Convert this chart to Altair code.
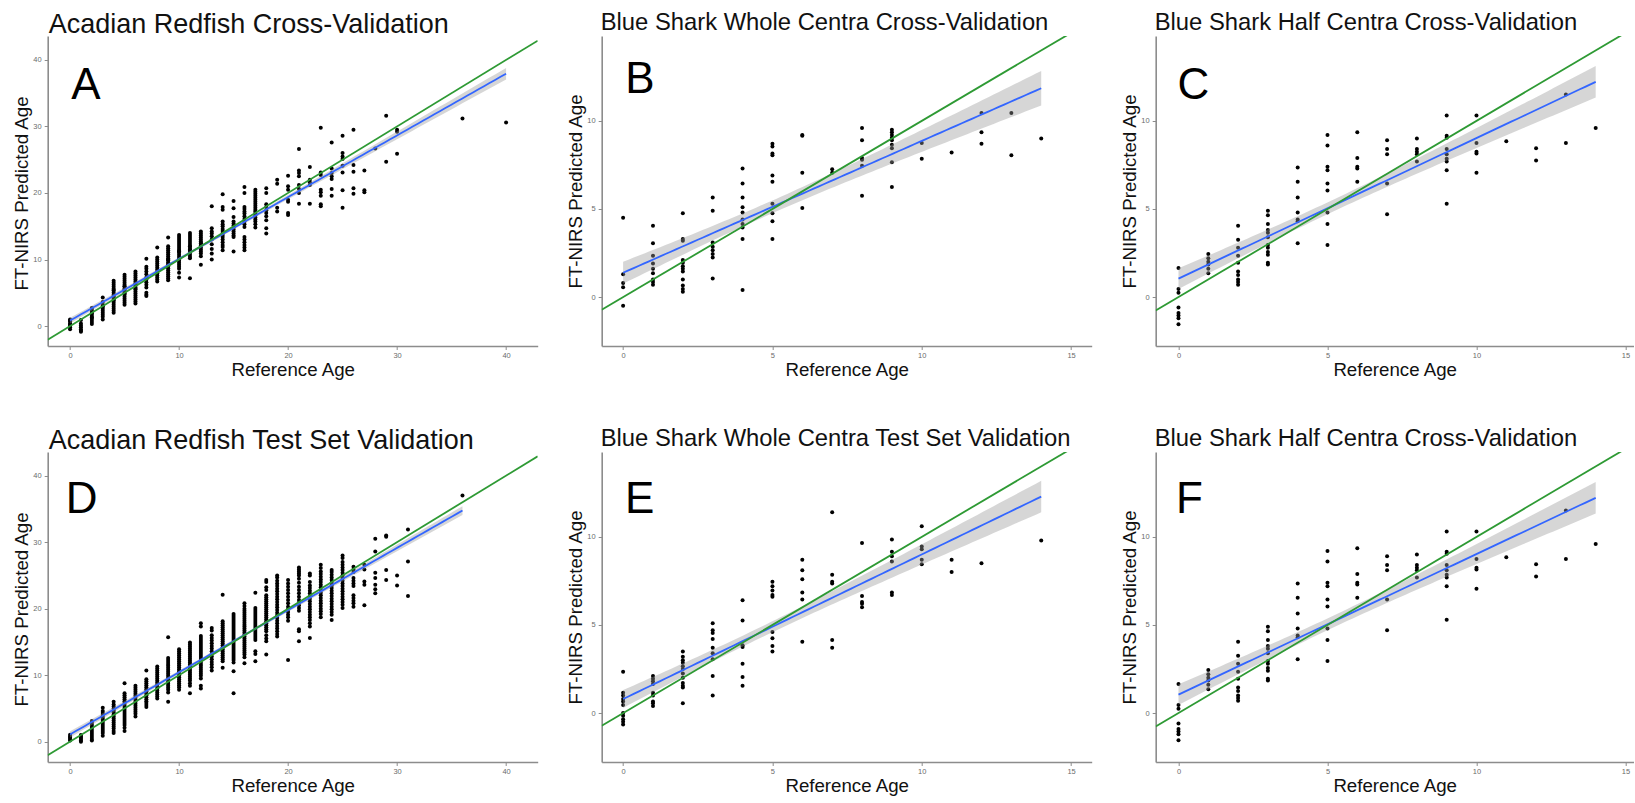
import altair as alt
import numpy as np
import pandas as pd

FONT = "Liberation Sans"
AX = "#8c8c8c"
LAB = "#6b6b6b"
TXT = "#111111"
GREEN = "#2e9a34"
BLUE = "#3366FF"

# ---------------- data ----------------
# Panel A: Acadian Redfish Cross-Validation
A_ages = [0, 1, 2, 3, 4, 5, 6, 7, 8, 9, 10, 11, 12, 13, 14, 15, 16, 17, 18, 19, 20,
          21, 22, 23, 24, 25, 26, 27, 28, 29, 30, 36, 40]
A_preds = [
    [1.0, 0.7, 0.4, 0.1, -0.2, -0.5, 0.85, 0.25],
    [0.9, 0.4, -0.2, -0.5, -0.7, -0.85, 0.1],
    [2.7, 2.4, 2.1, 1.8, 1.5, 1.2, 0.9, 0.6, 0.3, 2.0, 1.3],
    [4.3, 3.6, 3.2, 2.9, 2.6, 2.3, 2.0, 1.7, 1.4, 1.0, 3.0],
    [6.8, 6.5, 6.2, 5.9, 5.6, 5.3, 5.0, 4.7, 4.4, 4.1, 3.8, 3.5, 3.2, 2.9, 2.6, 2.3, 2.0, 4.5, 3.9, 5.4],
    [7.7, 7.4, 7.1, 6.8, 6.5, 6.2, 5.9, 5.6, 5.3, 5.0, 4.7, 4.4, 4.1, 3.8, 3.5, 3.2, 5.5, 6.0, 4.9],
    [8.2, 7.9, 7.6, 7.3, 7.0, 6.7, 6.4, 6.1, 5.8, 5.5, 5.2, 4.9, 4.6, 4.3, 4.0, 3.7, 3.4, 6.3, 5.6],
    [10.1, 8.9, 8.6, 8.2, 7.8, 7.3, 7.0, 6.6, 6.2, 5.8, 5.0, 4.7, 4.5],
    [11.8, 10.3, 10.0, 9.7, 9.4, 9.1, 8.8, 8.5, 8.2, 7.9, 7.6, 7.3, 7.0, 6.7, 8.0],
    [13.3, 12.0, 11.7, 11.4, 11.1, 10.8, 10.5, 10.2, 9.9, 9.6, 9.3, 9.0, 8.7, 8.4, 8.1, 7.8, 7.5, 7.2, 6.9, 10.0, 9.2],
    [13.7, 13.4, 13.1, 12.8, 12.5, 12.2, 11.9, 11.6, 11.3, 11.0, 10.7, 10.4, 10.1, 9.8, 9.5, 9.2, 8.9, 8.6, 8.0, 7.3, 10.0, 11.2],
    [14.0, 13.7, 13.4, 13.1, 12.8, 12.5, 12.2, 11.9, 11.6, 11.3, 11.0, 10.7, 10.4, 10.2, 7.2, 12.0, 11.5],
    [14.2, 13.9, 13.6, 13.3, 13.0, 12.7, 12.4, 12.1, 11.8, 11.5, 11.2, 10.9, 10.5, 9.2, 12.5],
    [18.0, 14.7, 14.2, 13.9, 13.5, 13.0, 12.3, 11.6, 10.9, 10.0],
    [19.8, 17.9, 17.5, 15.7, 15.3, 15.0, 14.6, 14.3, 14.0, 13.7, 13.4, 13.0, 12.6, 12.2, 11.9, 11.4],
    [18.8, 17.7, 16.4, 15.7, 15.4, 15.1, 14.8, 14.5, 14.2, 13.9, 13.6, 13.4, 11.2],
    [20.9, 20.0, 17.9, 17.6, 17.2, 16.9, 16.5, 16.1, 15.7, 15.3, 14.9, 13.4, 13.0, 12.6, 12.2, 11.8, 11.4],
    [20.5, 20.2, 19.9, 19.6, 19.3, 19.0, 18.7, 18.4, 18.1, 17.8, 17.5, 17.2, 16.9, 16.6, 16.3, 16.0, 15.7, 15.3, 14.8],
    [20.7, 20.0, 18.3, 17.9, 17.4, 17.0, 16.5, 15.9, 14.7, 13.9],
    [22.0, 21.4, 17.8, 17.2],
    [22.6, 21.0, 20.5, 19.0, 18.7, 17.0, 16.7],
    [26.6, 23.4, 23.0, 22.5, 21.2, 20.6, 20.0, 18.4],
    [23.9, 22.0, 21.6, 21.2, 18.4],
    [29.8, 23.1, 22.7, 20.5, 20.1, 19.6, 18.3, 18.0],
    [27.6, 23.7, 23.0, 22.5, 22.1, 20.6, 19.6],
    [28.6, 26.0, 25.5, 25.1, 24.1, 23.1, 20.4, 17.8],
    [29.5, 24.2, 23.2, 20.7, 19.9],
    [23.4, 20.4, 20.1],
    [26.7],
    [31.6, 24.7],
    [29.5, 29.2, 25.9],
    [31.2],
    [30.6],
]

# Panel B: Blue Shark Whole Centra Cross-Validation
B_ages = [0, 1, 2, 3, 4, 5, 6, 7, 8, 9, 10, 11, 12, 13, 14]
B_preds = [
    [4.5, 1.3, 0.8, 0.55, -0.5],
    [4.05, 3.05, 2.35, 1.9, 1.6, 1.35, 1.0, 0.85, 0.7],
    [4.75, 3.3, 3.2, 2.1, 1.95, 1.75, 1.6, 1.45, 1.0, 0.65, 0.45, 0.3],
    [5.65, 4.9, 3.1, 2.85, 2.65, 2.45, 2.25, 1.05],
    [7.3, 6.45, 5.65, 5.1, 4.8, 4.4, 4.15, 3.95, 3.3, 0.4],
    [8.7, 8.55, 8.15, 8.05, 6.9, 6.55, 5.3, 4.75, 4.3, 3.3],
    [9.2, 9.15, 7.05, 5.05],
    [7.25, 7.05],
    [9.6, 8.9, 7.9, 7.8, 7.45, 5.75],
    [9.5, 9.35, 9.2, 9.05, 8.9, 8.65, 8.45, 7.65, 6.25],
    [8.75, 7.85],
    [8.2],
    [10.45, 9.35, 8.7],
    [10.45, 8.05],
    [9.0],
]

# Panels C and F: Blue Shark Half Centra Cross-Validation (same data)
C_ages = [0, 1, 2, 3, 4, 5, 6, 7, 8, 9, 10, 11, 12, 13, 14]
C_preds = [
    [1.65, 0.45, 0.25, -0.6, -0.9, -1.05, -1.2, -1.55],
    [2.45, 2.2, 2.0, 1.85, 1.6, 1.35],
    [4.05, 3.25, 2.8, 2.35, 1.95, 1.45, 1.25, 1.0, 0.85, 0.7],
    [4.9, 4.65, 4.15, 3.8, 3.65, 3.4, 2.95, 2.8, 2.55, 2.4, 1.95, 1.85],
    [7.35, 6.55, 5.65, 4.8, 4.4, 4.3, 3.05],
    [9.2, 8.6, 7.4, 7.2, 6.45, 6.05, 4.8, 4.15, 2.95],
    [9.35, 7.9, 7.4, 7.3, 6.55],
    [8.9, 8.4, 8.1, 6.45, 4.7],
    [9.0, 8.4, 8.25, 8.1, 7.7],
    [10.3, 9.15, 9.05, 8.4, 8.1, 7.85, 7.7, 7.2, 5.3],
    [10.3, 8.75, 8.25, 8.15, 7.05],
    [8.85],
    [8.45, 7.75],
    [11.5, 8.75],
    [9.6],
]

# Panel D: Acadian Redfish Test Set Validation
D_ages = [0, 1, 2, 3, 4, 5, 6, 7, 8, 9, 10, 11, 12, 13, 14, 15, 16, 17, 18, 19, 20,
          21, 22, 23, 24, 25, 26, 27, 28, 29, 30, 31, 36]
D_preds = [
    [1.05, 0.8, 0.6, 0.4, 0.2],
    [1.0, 0.8, 0.6, 0.4, 0.2, 0.0],
    [3.1, 2.8, 2.5, 2.2, 1.9, 1.6, 1.3, 1.0, 0.7, 0.4, 0.2],
    [5.1, 4.6, 4.3, 4.0, 3.7, 3.4, 3.1, 2.8, 2.5, 2.2, 1.9, 1.6, 1.3, 0.9],
    [6.0, 5.6, 5.3, 5.0, 4.7, 4.4, 4.1, 3.8, 3.5, 3.2, 2.9, 2.6, 2.3, 2.0, 1.6, 1.3],
    [8.8, 7.3, 7.0, 6.7, 6.4, 6.1, 5.8, 5.5, 5.2, 4.9, 4.6, 4.3, 4.0, 3.7, 3.4, 3.1, 2.8, 2.5, 2.1, 1.6],
    [8.4, 8.1, 7.8, 7.5, 7.2, 6.9, 6.6, 6.3, 6.0, 5.7, 5.4, 5.1, 4.8, 4.5, 4.2, 3.8],
    [10.7, 9.4, 9.1, 8.8, 8.5, 8.2, 7.9, 7.6, 7.3, 7.0, 6.7, 6.4, 6.1, 5.8, 5.5, 5.2],
    [11.3, 11.0, 10.7, 10.4, 10.1, 9.8, 9.5, 9.2, 8.9, 8.6, 8.3, 8.0, 7.7, 7.4, 7.1, 6.8, 6.5],
    [15.7, 12.6, 12.3, 12.0, 11.7, 11.4, 11.1, 10.8, 10.5, 10.2, 9.9, 9.6, 9.3, 9.0, 8.7, 8.4, 8.1, 7.8, 7.4, 6.0],
    [13.9, 13.6, 13.3, 13.0, 12.7, 12.4, 12.1, 11.8, 11.5, 11.2, 10.9, 10.6, 10.3, 10.0, 9.7, 9.4, 9.1, 8.8, 8.5, 8.2, 7.8],
    [14.9, 14.6, 14.3, 14.0, 13.7, 13.4, 13.1, 12.8, 12.5, 12.2, 11.9, 11.6, 11.3, 11.0, 10.7, 10.4, 10.1, 9.8, 9.5, 9.2, 8.8, 8.4, 7.3],
    [17.8, 17.3, 15.9, 15.6, 15.3, 15.0, 14.7, 14.4, 14.1, 13.8, 13.5, 13.2, 12.9, 12.6, 12.3, 12.0, 11.7, 11.4, 11.1, 10.8, 10.5, 10.2, 9.9, 9.5, 8.4, 8.0],
    [17.1, 16.7, 16.0, 15.6, 15.2, 14.8, 14.4, 14.0, 13.6, 13.2, 12.8, 12.4, 12.0, 11.6, 11.2, 10.7],
    [22.1, 18.1, 17.8, 17.5, 17.2, 16.9, 16.6, 16.3, 16.0, 15.7, 15.4, 15.1, 14.8, 14.5, 14.2, 13.9, 13.6, 13.3, 13.0, 12.7, 12.4, 12.1, 11.1],
    [19.2, 18.9, 18.6, 18.3, 18.0, 17.7, 17.4, 17.1, 16.8, 16.5, 16.2, 15.9, 15.6, 15.3, 15.0, 14.7, 14.4, 14.1, 13.8, 13.5, 13.2, 12.9, 12.6, 12.3, 11.9, 10.6, 7.3],
    [20.8, 20.4, 20.0, 19.7, 19.4, 19.1, 18.8, 18.5, 18.2, 17.9, 17.6, 17.3, 17.0, 16.7, 16.4, 16.1, 15.8, 15.5, 15.2, 14.9, 14.6, 14.3, 14.0, 13.7, 13.4, 13.1, 12.7, 11.8],
    [22.4, 20.1, 19.8, 19.5, 19.2, 18.9, 18.6, 18.3, 18.0, 17.7, 17.4, 17.1, 16.8, 16.5, 16.2, 15.9, 15.6, 15.3, 13.6, 13.2, 12.1],
    [24.3, 24.0, 23.2, 22.8, 22.0, 21.7, 21.4, 21.1, 20.8, 20.5, 20.2, 19.9, 19.6, 19.3, 19.0, 18.7, 18.4, 18.1, 17.8, 17.5, 17.2, 16.9, 16.6, 16.0, 15.5, 15.1, 13.1],
    [25.0, 24.7, 24.2, 23.8, 23.4, 23.0, 22.6, 22.2, 21.8, 21.4, 21.0, 20.6, 20.2, 19.8, 19.4, 19.0, 18.6, 18.2, 17.8, 17.4, 17.0, 16.6, 16.2, 15.8],
    [24.3, 23.8, 23.3, 22.8, 22.3, 21.8, 21.3, 20.8, 20.3, 19.9, 19.5, 19.1, 18.7, 18.2, 12.3],
    [26.2, 25.9, 25.6, 25.3, 25.0, 24.5, 23.9, 23.3, 22.8, 22.3, 21.8, 21.3, 20.9, 20.5, 20.1, 19.7, 16.9, 16.6, 15.1],
    [25.3, 25.0, 24.0, 23.5, 23.1, 22.7, 22.3, 21.9, 21.5, 21.1, 20.7, 20.3, 19.9, 19.5, 19.1, 18.7, 18.3, 17.8, 17.3, 15.6],
    [26.6, 26.1, 25.6, 25.2, 24.8, 24.4, 24.0, 23.6, 23.2, 22.8, 22.4, 22.0, 21.6, 21.2, 20.8, 20.4, 20.0, 19.6, 19.2, 18.7],
    [25.8, 25.5, 25.1, 24.7, 24.3, 23.9, 23.5, 23.1, 22.7, 22.3, 21.9, 21.5, 21.1, 20.7, 20.3, 19.9, 19.5, 19.1, 18.3],
    [28.0, 27.6, 27.0, 26.6, 26.2, 25.8, 25.4, 25.0, 24.6, 24.2, 23.8, 23.4, 23.0, 22.6, 22.2, 21.8, 21.4, 21.0, 20.6, 20.1],
    [26.3, 25.9, 25.5, 24.6, 24.2, 23.8, 23.4, 22.0, 21.6, 21.2, 20.8, 20.3],
    [26.6, 25.9, 24.1, 23.6, 20.5],
    [30.5, 28.6, 25.4, 24.6, 23.6, 22.9, 22.3],
    [31.0, 30.8, 25.8, 24.3],
    [25.0, 23.5],
    [31.9, 27.1, 21.9],
    [37.0],
]

# Panel E: Blue Shark Whole Centra Test Set Validation
E_ages = [0, 1, 2, 3, 4, 5, 6, 7, 8, 9, 10, 11, 12, 14]
E_preds = [
    [2.35, 1.15, 1.0, 0.8, 0.65, 0.45, 0.0, -0.15, -0.35, -0.5, -0.65],
    [2.1, 1.95, 1.8, 1.65, 1.15, 1.0, 0.65, 0.55, 0.4],
    [3.5, 3.2, 3.0, 2.85, 2.65, 2.5, 2.25, 2.0, 1.7, 1.55, 1.45, 0.55],
    [5.1, 4.7, 4.55, 4.2, 3.7, 3.4, 3.05, 2.1, 1.0],
    [6.4, 5.25, 3.85, 3.75, 2.8, 2.05, 1.55],
    [7.45, 7.2, 6.95, 6.7, 6.6, 4.6, 4.25, 3.8, 3.5],
    [8.7, 8.1, 7.6, 6.85, 6.45, 4.05],
    [11.4, 7.85, 7.45, 7.35, 4.15, 3.7],
    [9.65, 6.65, 6.3, 6.2, 6.0],
    [9.85, 9.15, 8.9, 8.6, 6.85, 6.7],
    [10.6, 9.45, 9.3, 8.7, 8.45],
    [8.7, 8.0],
    [8.5],
    [9.8],
]

# Axis domains and tick values
RED_X = [-2.05, 42.9]
RED_Y_TOP = [-3.0, 43.6]
RED_Y_BOT = [-3.05, 43.55]
SHK_X_MID = [-0.717, 15.69]
SHK_X_RIGHT = [-0.765, 15.275]
SHK_Y = [-2.78, 14.82]
RED_TICKS = [0, 10, 20, 30, 40]
SHK_XTICKS = [0, 5, 10, 15]
SHK_YTICKS = [0, 5, 10]

TITLES = [
    "Acadian Redfish Cross-Validation",
    "Blue Shark Whole Centra Cross-Validation",
    "Blue Shark Half Centra Cross-Validation",
    "Acadian Redfish Test Set Validation",
    "Blue Shark Whole Centra Test Set Validation",
    "Blue Shark Half Centra Cross-Validation",
]
LETTERS = ["A", "B", "C", "D", "E", "F"]
LETTER_X = [0.1, 0.07, -0.03, -0.39, 0.06, -0.08]
LETTER_Y = [34.2, 11.57, 11.25, 34.4, 11.34, 11.34]

H = 310


def make_panel(ages, preds, xdom, ydom, w, xticks, yticks, title, tfs, toff, tdx, tdy,
               letter, lx, ly, ytitle_y):
    xs, ys = [], []
    for a, ps in zip(ages, preds):
        xs += [a] * len(ps)
        ys += ps
    pts = pd.DataFrame({"ref": xs, "pred": ys})

    # linear model with 95% confidence band (as geom_smooth(method = "lm"))
    x = np.array(xs, float)
    y = np.array(ys, float)
    n = len(x)
    b, a0 = np.polyfit(x, y, 1)
    resid = y - (a0 + b * x)
    s = np.sqrt((resid ** 2).sum() / (n - 2))
    sxx = ((x - x.mean()) ** 2).sum()
    dof = n - 2
    t = 1.959964 + 2.37 / dof + 2.82 / dof ** 2
    gx = np.linspace(x.min(), x.max(), 80)
    fit = a0 + b * gx
    se = s * np.sqrt(1.0 / n + (gx - x.mean()) ** 2 / sxx)
    band = pd.DataFrame({"gx": gx, "fit": fit, "lo": fit - t * se, "hi": fit + t * se})

    ident = pd.DataFrame({"ix": list(xdom), "iy": list(xdom)})
    lab = pd.DataFrame({"lx": [lx], "ly": [ly], "t": [letter]})

    xscale = alt.Scale(domain=list(xdom), nice=False, zero=False)
    yscale = alt.Scale(domain=list(ydom), nice=False, zero=False)
    xaxis = alt.Axis(values=xticks, format="d", title="Reference Age", grid=False,
                     domainColor=AX, domainWidth=1.6, tickColor=AX, tickSize=3.5, tickWidth=1,
                     labelFont=FONT, labelFontSize=7.5, labelColor=LAB, labelPadding=2,
                     labelFlush=False,
                     titleFont=FONT, titleFontSize=18.7, titleFontWeight="normal",
                     titleColor=TXT, titleBaseline="alphabetic", titleX=w / 2, titleY=29.5)
    yaxis = alt.Axis(values=yticks, format="d", title="FT-NIRS Predicted Age", grid=False,
                     domainColor=AX, domainWidth=1.6, tickColor=AX, tickSize=3.5, tickWidth=1,
                     labelFont=FONT, labelFontSize=7.5, labelColor=LAB, labelPadding=3,
                     labelFlush=False,
                     titleFont=FONT, titleFontSize=18.7, titleFontWeight="normal",
                     titleColor=TXT, titleBaseline="alphabetic", titleAngle=270,
                     titleAlign="center", titleX=-20, titleY=ytitle_y)

    def X(f):
        return alt.X(f, type="quantitative", scale=xscale, axis=xaxis)

    def Y(f):
        return alt.Y(f, type="quantitative", scale=yscale, axis=yaxis)

    points = alt.Chart(pts).mark_circle(size=16, color="black", opacity=1).encode(
        x=X("ref"), y=Y("pred"))
    ribbon = alt.Chart(band).mark_area(color="#999999", opacity=0.4, clip=True).encode(
        x=X("gx"), y=Y("lo"), y2=alt.Y2("hi"))
    fitline = alt.Chart(band).mark_line(color=BLUE, strokeWidth=1.8, clip=True).encode(
        x=X("gx"), y=Y("fit"))
    idline = alt.Chart(ident).mark_line(color=GREEN, strokeWidth=1.8, clip=True).encode(
        x=X("ix"), y=Y("iy"))
    letter_mark = alt.Chart(lab).mark_text(align="left", baseline="alphabetic", fontSize=44,
                                           font=FONT, color="black").encode(
        x=X("lx"), y=Y("ly"), text="t:N")

    return alt.layer(points, ribbon, fitline, idline, letter_mark).properties(
        width=w, height=H,
        title=alt.TitleParams(text=title, anchor="start", frame="group", font=FONT,
                              fontSize=tfs, fontWeight="normal", color=TXT,
                              baseline="alphabetic", offset=toff, dx=tdx, dy=tdy))


pA = make_panel(A_ages, A_preds, RED_X, RED_Y_TOP, 490, RED_TICKS, RED_TICKS, TITLES[0],
                27, 5, 1, 29.2, LETTERS[0], LETTER_X[0], LETTER_Y[0], 157)
pB = make_panel(B_ages, B_preds, SHK_X_MID, SHK_Y, 490, SHK_XTICKS, SHK_YTICKS, TITLES[1],
                23.8, 8.3, -1, 25.7, LETTERS[1], LETTER_X[1], LETTER_Y[1], 155)
pC = make_panel(C_ages, C_preds, SHK_X_RIGHT, SHK_Y, 478, SHK_XTICKS, SHK_YTICKS, TITLES[2],
                23.8, 8.3, -1, 25.7, LETTERS[2], LETTER_X[2], LETTER_Y[2], 155)
pD = make_panel(D_ages, D_preds, RED_X, RED_Y_BOT, 490, RED_TICKS, RED_TICKS, TITLES[3],
                27, 5.3, 1, 29.2, LETTERS[3], LETTER_X[3], LETTER_Y[3], 157)
pE = make_panel(E_ages, E_preds, SHK_X_MID, SHK_Y, 490, SHK_XTICKS, SHK_YTICKS, TITLES[4],
                23.8, 7.7, -1, 25.7, LETTERS[4], LETTER_X[4], LETTER_Y[4], 155)
pF = make_panel(C_ages, C_preds, SHK_X_RIGHT, SHK_Y, 478, SHK_XTICKS, SHK_YTICKS, TITLES[5],
                23.8, 7.7, -1, 25.7, LETTERS[5], LETTER_X[5], LETTER_Y[5], 155)

chart = alt.concat(pA, pB, pC, pD, pE, pF, columns=3,
                   spacing={"row": 106, "column": 64}, bounds="flush").properties(
    padding={"left": 11.7, "top": 10, "right": 0, "bottom": 0},
    background="white",
).configure_view(stroke=None)

chart.save("out.html", embed_options={"renderer": "svg", "actions": False})
